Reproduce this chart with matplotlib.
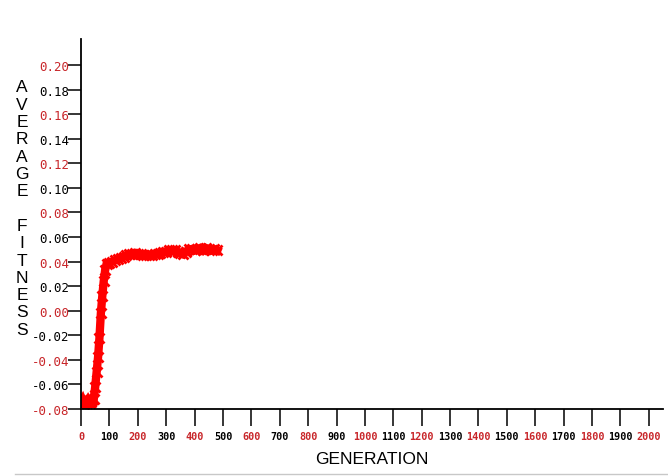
import numpy as np
import matplotlib
matplotlib.use("Agg")
import matplotlib.pyplot as plt

# generation vs average fitness
gens = [0, 5, 10, 15, 20, 25, 30, 35, 40, 45, 50, 55, 60, 65, 70, 75, 80, 85, 90,
        100, 110, 120, 130, 140, 150, 160, 170, 180, 190, 200, 210, 220, 230, 240,
        250, 260, 270, 280, 290, 300, 310, 320, 330, 340, 350, 360, 370, 380, 390,
        400, 410, 420, 430, 440, 450, 460, 470, 480]
fitness = [-0.075, -0.073, -0.076, -0.074, -0.075, -0.073, -0.075, -0.074, -0.073,
           -0.072, -0.062, -0.050, -0.038, -0.022, -0.002, 0.012, 0.024, 0.033, 0.038,
           0.039, 0.040, 0.041, 0.042, 0.043, 0.044, 0.045, 0.046, 0.046, 0.047,
           0.046, 0.046, 0.045, 0.045, 0.045, 0.045, 0.046, 0.046, 0.047, 0.048,
           0.048, 0.049, 0.049, 0.049, 0.048, 0.047, 0.046, 0.048, 0.050, 0.050,
           0.049, 0.050, 0.051, 0.049, 0.051, 0.050, 0.049, 0.050, 0.049]

yticks = [-0.08, -0.06, -0.04, -0.02, 0.00, 0.02, 0.04, 0.06, 0.08, 0.10,
          0.12, 0.14, 0.16, 0.18, 0.20]
xticks = list(range(0, 2001, 100))
ylabel = "AVERAGE FITNESS"
xlabel = "GENERATION"

RED = "#c8262a"
LABEL_FONT = "Liberation Sans"

fig = plt.figure(figsize=(6.68, 4.77), dpi=100)
ax = fig.add_axes([81/668, 1-410/477, (663-81)/668, (410-40)/477])

ax.plot(gens, fitness, color="red", lw=6, marker="x", ms=7, mew=2,
        solid_joinstyle="miter")

ax.set_xlim(0, 2050)
ax.set_ylim(-0.08, 0.2211)
for s in ["top", "right"]:
    ax.spines[s].set_visible(False)
ax.spines["left"].set_linewidth(1.3)
ax.spines["bottom"].set_linewidth(1.3)

ax.set_yticks(yticks)
ax.set_yticklabels([f"{v:.2f}" for v in yticks], family="DejaVu Sans Mono", fontsize=9)
ax.set_xticks(xticks)
ax.set_xticklabels([str(v) for v in xticks], family="DejaVu Sans Mono",
                   fontsize=7.3, fontweight="bold")
ax.tick_params(axis="y", direction="out", length=9.5, width=1.1, pad=-1)
ax.tick_params(axis="x", direction="out", length=12, width=1.1, pad=3.5)

for ticks in (ax.yaxis.get_major_ticks(), ax.xaxis.get_major_ticks()):
    for i, t in enumerate(ticks):
        if i % 2 == 0:
            t.label1.set_color(RED)
            t.tick1line.set_color("black")
        else:
            t.label1.set_color("black")
            t.tick1line.set_color(RED)

# stacked vertical y label
for i, ch in enumerate(ylabel):
    fig.text(22/668, 1-(88 + i*17.3)/477, ch, family=LABEL_FONT, fontsize=12.5,
             ha="center", va="center")

fig.text(372/668, 1-460/477, xlabel, family=LABEL_FONT, fontsize=12.5,
         ha="center", va="center")

fig.add_artist(plt.Line2D([15/668, 1], [1-475/477, 1-475/477], color="#c8c8c8", lw=1))

fig.savefig("out.png", dpi=100)
